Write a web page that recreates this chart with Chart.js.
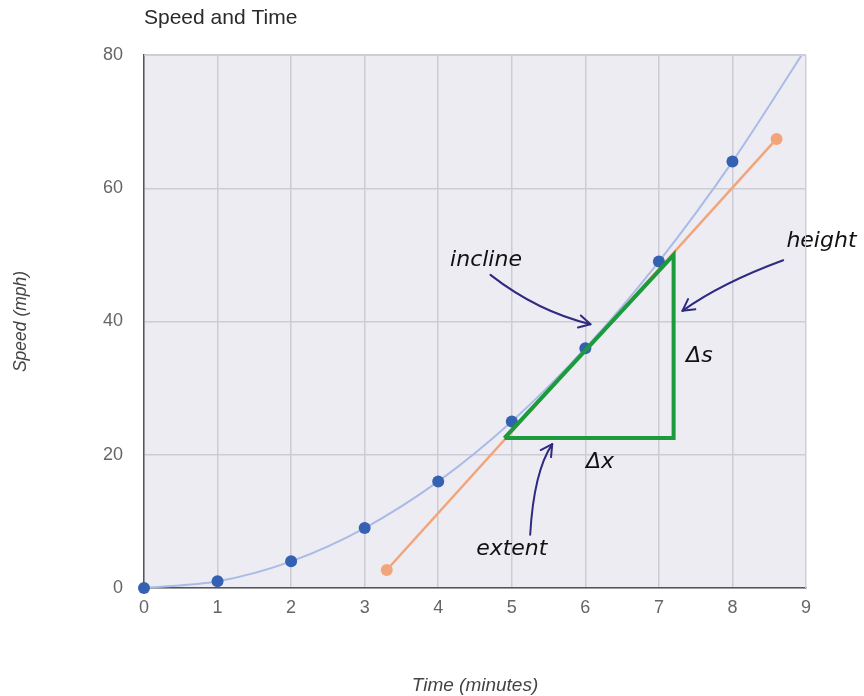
<!DOCTYPE html>
<html>
<head>
<meta charset="utf-8">
<script src="https://cdn.jsdelivr.net/npm/chart.js@4/dist/chart.umd.min.js"></script>
<style>
  html, body { margin: 0; padding: 0; background: #ffffff; }
  #wrap { width: 864px; height: 696px; }
</style>
</head>
<body>
<div id="wrap"><canvas id="c" width="864" height="696"></canvas></div>
<script>
// ---- data ----
const chartTitle = 'Speed and Time';
const xAxisTitle = 'Time (minutes)';
const yAxisTitle = 'Speed (mph)';
const xTicks = [0, 1, 2, 3, 4, 5, 6, 7, 8, 9];
const yTicks = [0, 20, 40, 60, 80];

const times  = [0, 1, 2, 3, 4, 5, 6, 7, 8];
const speeds = [0, 1, 4, 9, 16, 25, 36, 49, 64];
// trend curve continues past the last sample and leaves the plot at the top
const curveExtraX = [9];
const curveExtraY = [81];

// tangent (orange) line end points
const tangentX = [3.3, 8.6];
const tangentY = [2.7, 67.4];

// green slope triangle corners
const triX = [4.9, 7.2, 7.2, 4.9];
const triY = [22.5, 50, 22.5, 22.5];

// handwritten notes
const noteText = ['incline', 'height', 'Δs', 'Δx', 'extent'];
const noteX = [4.65, 9.21, 7.55, 6.2, 5.0];
const noteY = [49.2, 52.1, 34.8, 18.9, 5.8];

// note arrows: start, control, end (data units)
const arrowStartX = [4.71, 8.69, 5.25];
const arrowStartY = [47.0, 49.2, 8.0];
const arrowCtrlX  = [5.35, 7.85, 5.3];
const arrowCtrlY  = [41.5, 45.8, 17.5];
const arrowEndX   = [6.07, 7.32, 5.55];
const arrowEndY   = [39.6, 41.6, 21.6];

// ---- build datasets ----
const curvePts = times.map((t, i) => ({x: t, y: speeds[i]}))
  .concat(curveExtraX.map((t, i) => ({x: t, y: curveExtraY[i]})));
const curveRadius = times.map(() => 6).concat(curveExtraX.map(() => 0));
const tangentPts = tangentX.map((t, i) => ({x: t, y: tangentY[i]}));
const triPts = triX.map((t, i) => ({x: t, y: triY[i]}));

const FONT = "'Liberation Sans', Arial, sans-serif";

const bgPlugin = {
  id: 'bg',
  beforeDraw(chart) {
    const {ctx, chartArea: a} = chart;
    ctx.save();
    ctx.fillStyle = '#eeecf3';
    ctx.fillRect(a.left, a.top, a.right - a.left, a.bottom - a.top);
    ctx.restore();
  },
  afterDraw(chart) {
    const {ctx, chartArea: a} = chart;
    ctx.save();
    // top / right frame
    ctx.strokeStyle = '#cfcfd4';
    ctx.lineWidth = 1;
    ctx.beginPath();
    ctx.moveTo(a.left, a.top + 0.5); ctx.lineTo(a.right, a.top + 0.5);
    ctx.moveTo(a.right - 0.5, a.top); ctx.lineTo(a.right - 0.5, a.bottom);
    ctx.stroke();
    // chart title
    ctx.fillStyle = '#2a2a2a';
    ctx.font = '21px ' + FONT;
    ctx.textAlign = 'left';
    ctx.textBaseline = 'middle';
    ctx.fillText(chartTitle, a.left, 18);
    ctx.restore();
  }
};

const notesPlugin = {
  id: 'notes',
  afterDatasetsDraw(chart) {
    const {ctx} = chart;
    const xs = chart.scales.x, ys = chart.scales.y;
    ctx.save();
    // arrows
    ctx.strokeStyle = '#2f2a82';
    ctx.lineWidth = 2;
    ctx.lineCap = 'round';
    ctx.lineJoin = 'round';
    for (let i = 0; i < arrowStartX.length; i++) {
      const sx = xs.getPixelForValue(arrowStartX[i]), sy = ys.getPixelForValue(arrowStartY[i]);
      const cx = xs.getPixelForValue(arrowCtrlX[i]),  cy = ys.getPixelForValue(arrowCtrlY[i]);
      const ex = xs.getPixelForValue(arrowEndX[i]),   ey = ys.getPixelForValue(arrowEndY[i]);
      ctx.beginPath();
      ctx.moveTo(sx, sy);
      ctx.quadraticCurveTo(cx, cy, ex, ey);
      ctx.stroke();
      const ang = Math.atan2(ey - cy, ex - cx);
      const L = 13;
      ctx.beginPath();
      ctx.moveTo(ex - L * Math.cos(ang - 0.5), ey - L * Math.sin(ang - 0.5));
      ctx.lineTo(ex, ey);
      ctx.lineTo(ex - L * Math.cos(ang + 0.5), ey - L * Math.sin(ang + 0.5));
      ctx.stroke();
    }
    // handwritten-style notes
    ctx.fillStyle = '#111111';
    ctx.font = 'italic 22px "Comic Sans MS", "DejaVu Sans", sans-serif';
    ctx.textAlign = 'center';
    ctx.textBaseline = 'middle';
    for (let i = 0; i < noteText.length; i++) {
      ctx.fillText(noteText[i], xs.getPixelForValue(noteX[i]), ys.getPixelForValue(noteY[i]));
    }
    ctx.restore();
  }
};

new Chart(document.getElementById('c'), {
  type: 'scatter',
  data: {
    datasets: [
      {
        label: 'triangle',
        data: triPts,
        showLine: true,
        borderColor: '#1b9b3c',
        backgroundColor: '#1b9b3c',
        borderWidth: 4,
        pointRadius: 0,
        tension: 0,
        borderJoinStyle: 'miter',
        order: 0
      },
      {
        label: 'speed',
        data: curvePts,
        showLine: true,
        borderColor: '#a9bbe6',
        backgroundColor: '#3561b3',
        borderWidth: 2,
        pointRadius: curveRadius,
        pointBorderWidth: 0,
        cubicInterpolationMode: 'monotone',
        clip: { left: 10, bottom: 10, top: 0, right: 0 },
        order: 1
      },
      {
        label: 'tangent',
        data: tangentPts,
        showLine: true,
        borderColor: '#f2a57a',
        backgroundColor: '#f2a57a',
        borderWidth: 2.5,
        pointRadius: 6,
        pointBorderWidth: 0,
        order: 2
      }
    ]
  },
  options: {
    responsive: false,
    animation: false,
    events: [],
    layout: { padding: { top: 55, right: 58, left: 0, bottom: 0 } },
    plugins: {
      legend: { display: false },
      tooltip: { enabled: false },
      title: { display: false }
    },
    scales: {
      x: {
        type: 'linear',
        min: 0, max: 9,
        afterFit(s) { s.height = 108; },
        afterBuildTicks(s) { s.ticks = xTicks.map(v => ({value: v})); },
        grid: { color: '#cdccd3', lineWidth: 1.5, drawTicks: false },
        border: { color: '#555555', width: 1.5 },
        ticks: { color: '#666666', font: { family: FONT, size: 18 }, padding: 9 },
        title: {
          display: true, text: xAxisTitle, color: '#444444',
          font: { family: FONT, size: 19, style: 'italic', lineHeight: 1.0 },
          padding: { top: 1, bottom: 1 }
        }
      },
      y: {
        type: 'linear',
        min: 0, max: 80,
        afterFit(s) { s.width = 144; },
        afterBuildTicks(s) { s.ticks = yTicks.map(v => ({value: v})); },
        grid: { color: '#cdccd3', lineWidth: 1.5, drawTicks: false },
        border: { color: '#555555', width: 1.5 },
        ticks: { color: '#666666', font: { family: FONT, size: 18 }, padding: 21 },
        title: {
          display: true, text: yAxisTitle, color: '#444444',
          font: { family: FONT, size: 17.5, style: 'italic' },
          padding: { top: 11, bottom: 11 }
        }
      }
    }
  },
  plugins: [bgPlugin, notesPlugin]
});
</script>
</body>
</html>
